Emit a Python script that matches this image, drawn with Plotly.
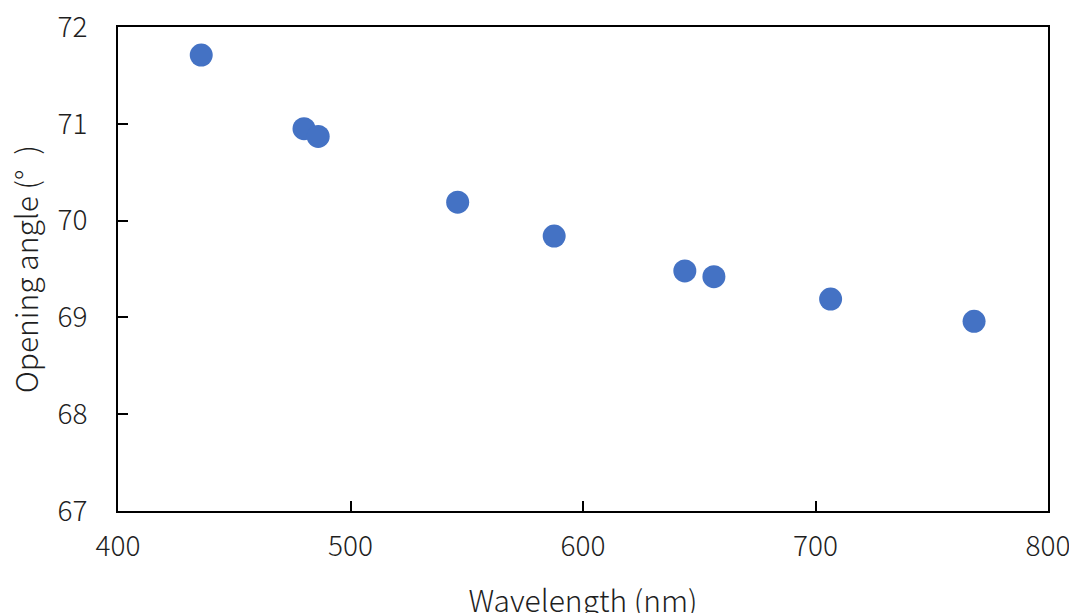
import plotly.graph_objects as go

wavelength_nm = [435.8, 480.0, 486.1, 546.1, 587.6, 643.8, 656.3, 706.5, 768.2]
opening_angle_deg = [71.71, 70.95, 70.87, 70.19, 69.84, 69.48, 69.42, 69.19, 68.96]

x_ticks = [400, 500, 600, 700, 800]
y_ticks = [67, 68, 69, 70, 71, 72]

font_family = "Noto Sans CJK JP"

fig = go.Figure(
    go.Scatter(
        x=wavelength_nm,
        y=opening_angle_deg,
        mode="markers",
        marker=dict(size=23, color="#4472C4"),
        cliponaxis=False,
    )
)

fig.update_layout(
    width=1077,
    height=613,
    margin=dict(l=110, r=37, t=19, b=110, autoexpand=False),
    plot_bgcolor="white",
    paper_bgcolor="white",
    showlegend=False,
    font=dict(family=font_family, size=28, color="#1f1f1f", weight=300),
)

common = dict(
    ticks="inside",
    ticklen=10,
    tickwidth=1.5,
    tickcolor="black",
    showline=True,
    linecolor="black",
    linewidth=2,
    mirror=True,
    showgrid=False,
    zeroline=False,
    automargin=False,
    ticklabeloverflow="allow",
)

fig.update_xaxes(
    range=[400, 800],
    tickvals=x_ticks,
    tickfont=dict(size=28, family=font_family, weight=300),
    ticklabelstandoff=9,
    title=dict(text="Wavelength (nm)", font=dict(size=30, family=font_family, weight=300), standoff=28),
    **common,
)

fig.update_yaxes(
    range=[67, 72],
    tickvals=y_ticks,
    tickfont=dict(size=28, family=font_family, weight=300),
    ticklabelstandoff=23,
    **common,
)

fig.add_annotation(
    text="Opening angle (°\u2002)",
    xref="paper",
    yref="paper",
    x=-0.1,
    y=0.5,
    xanchor="center",
    yanchor="middle",
    textangle=-90,
    showarrow=False,
    font=dict(size=30, family=font_family, weight=300, color="#1f1f1f"),
)

fig.write_html("out.html")
